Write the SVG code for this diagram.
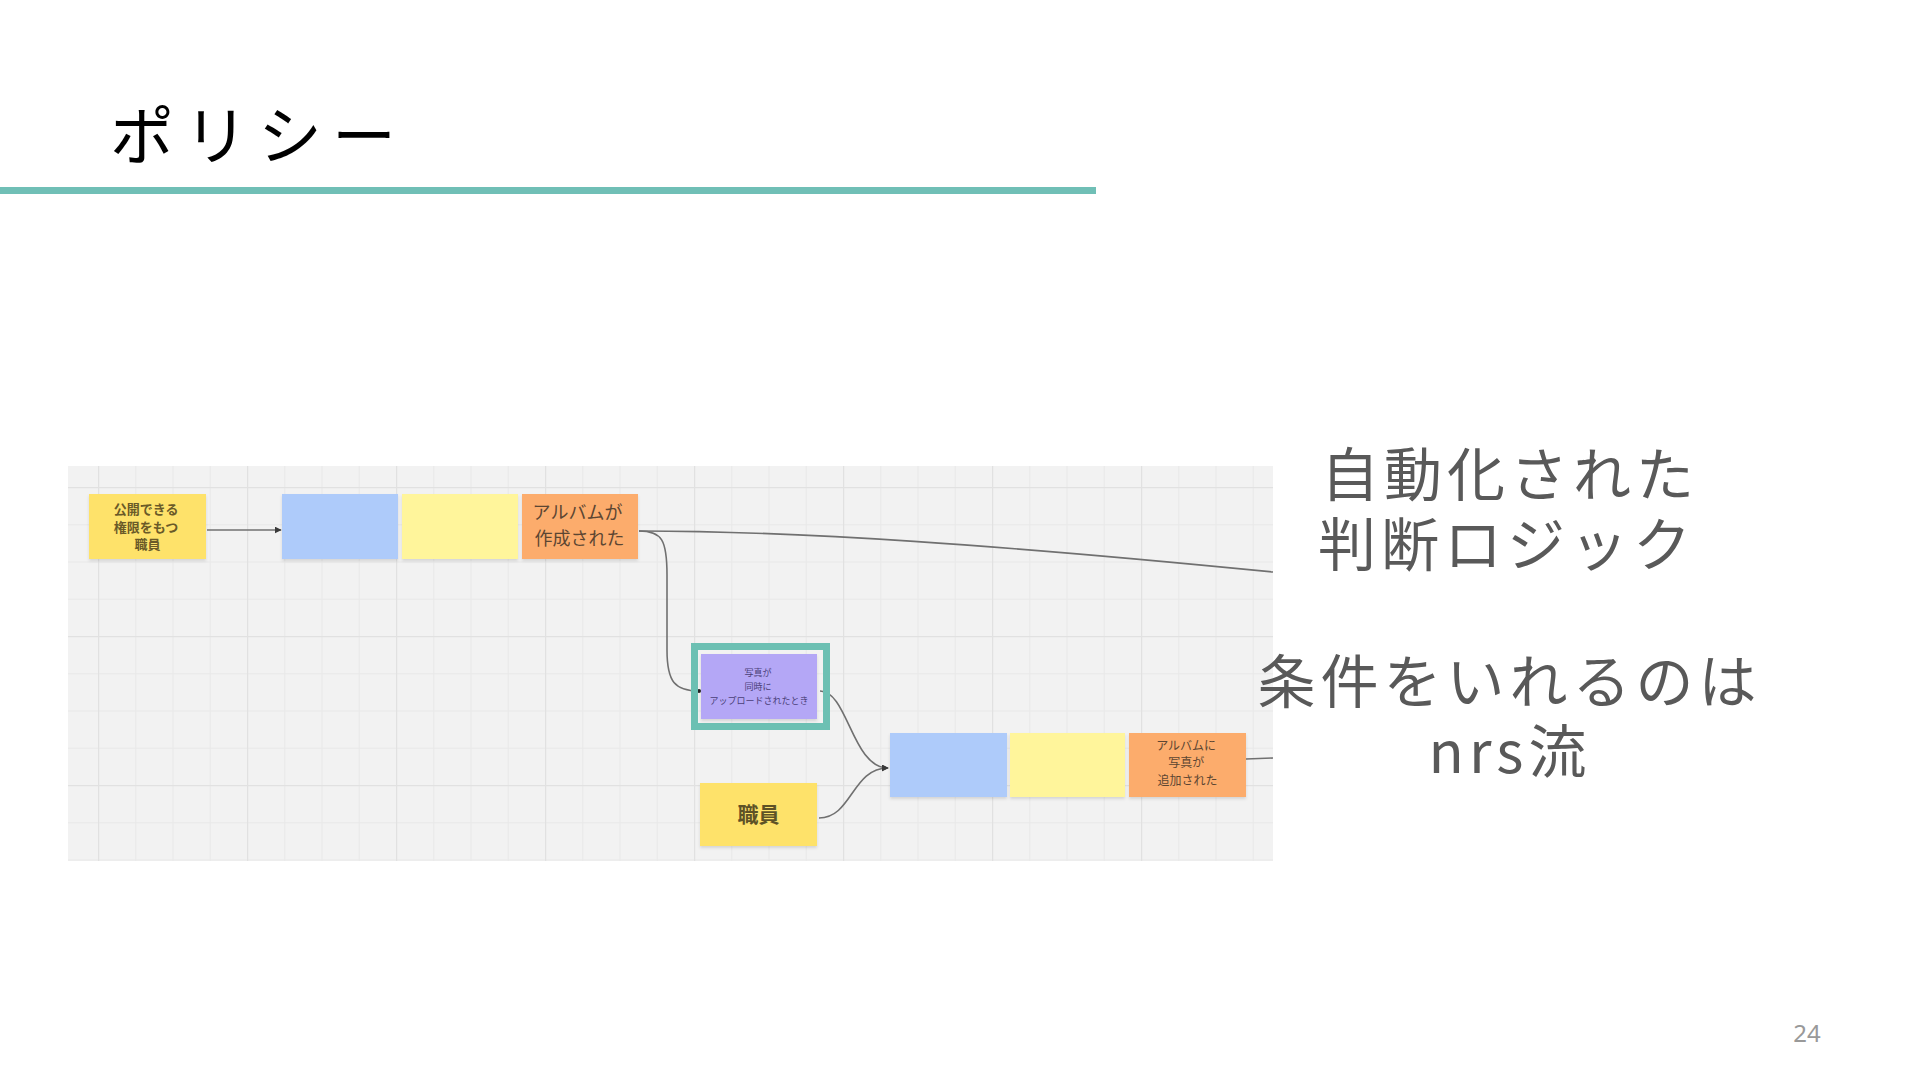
<svg xmlns="http://www.w3.org/2000/svg" width="1920" height="1080" viewBox="0 0 1920 1080">
<defs>
<style>
.jp{font-family:"Noto Sans CJK JP","Noto Sans",sans-serif;}
.title{font-size:64px;fill:#000;letter-spacing:10px;}
.big{font-size:58px;fill:#595959;letter-spacing:5px;text-anchor:middle;}
.st{text-anchor:middle;}
.conn{fill:none;stroke:#707070;stroke-width:1.6;}
.note{filter:url(#sh);}
</style>
<pattern id="grid" patternUnits="userSpaceOnUse" x="98" y="487" width="149" height="149">
<rect x="0" y="0" width="149" height="149" fill="#f2f2f2"/>
<g fill="#e9e9e9">
<rect x="37.25" y="0" width="1" height="149"/>
<rect x="74.5" y="0" width="1" height="149"/>
<rect x="111.75" y="0" width="1" height="149"/>
<rect x="0" y="37.25" width="149" height="1"/>
<rect x="0" y="74.5" width="149" height="1"/>
<rect x="0" y="111.75" width="149" height="1"/>
</g>
<g fill="#e1e1e1">
<rect x="0" y="0" width="1.2" height="149"/>
<rect x="0" y="0" width="149" height="1.2"/>
</g>
</pattern>
<filter id="sh" x="-10%" y="-10%" width="120%" height="130%">
<feDropShadow dx="0" dy="2" stdDeviation="1.5" flood-color="#000" flood-opacity="0.12"/>
</filter>
<marker id="arr" viewBox="0 0 10 10" refX="9" refY="5" markerWidth="7" markerHeight="7" markerUnits="userSpaceOnUse" orient="auto">
<path d="M0,0 L10,5 L0,10 Z" fill="#3a3a3a"/>
</marker>
<marker id="dot" viewBox="0 0 10 10" refX="5" refY="5" markerWidth="4" markerHeight="4" markerUnits="userSpaceOnUse">
<circle cx="5" cy="5" r="5" fill="#222"/>
</marker>
</defs>

<rect width="1920" height="1080" fill="#fff"/>

<g id="title">
<text class="jp title" x="110" y="159">ポリシー</text>
<rect x="0" y="187" width="1096" height="7" fill="#70bfb6"/>
</g>

<g id="board">
<rect x="68" y="466" width="1205" height="395" fill="url(#grid)"/>
</g>

<g id="connectors">
<path class="conn" d="M207,530 L281,530" marker-end="url(#arr)"/>
<path class="conn" d="M639,531 C800,531 1000,545 1273,572"/>
<path class="conn" d="M639,531 C662,531 667,540 667,575 L667,650 C667,682 675,691 699,691" marker-end="url(#dot)"/>
<path class="conn" d="M820,691 C848,691 852,768 888,768" marker-end="url(#arr)"/>
<path class="conn" d="M819,818 C852,818 852,768 888,768" marker-end="url(#arr)"/>
<path class="conn" d="M1246,759 L1273,758"/>
</g>

<g id="node-staff-publish">
<rect class="note" x="89" y="494" width="117" height="65" fill="#fee26b"/>
<text class="jp st" font-size="13" font-weight="bold" fill="#6a5a28">
<tspan x="147.5" y="514">公開できる</tspan>
<tspan x="147.5" y="532">権限をもつ</tspan>
<tspan x="147.5" y="549">職員</tspan>
</text>
</g>

<g id="node-blue-1">
<rect class="note" x="282" y="494" width="116" height="65" fill="#aecbfa"/>
</g>

<g id="node-yellow-1">
<rect class="note" x="402" y="494" width="116" height="65" fill="#fff59b"/>
</g>

<g id="node-album-created">
<rect class="note" x="522" y="494" width="116" height="65" fill="#fcac6c"/>
<text class="jp st" font-size="18" fill="#5c4632">
<tspan x="579.5" y="519">アルバムが</tspan>
<tspan x="579.5" y="545">作成された</tspan>
</text>
</g>

<g id="node-photo-upload">
<rect x="694.5" y="646.5" width="132" height="80" fill="none" stroke="#6cc0b3" stroke-width="7"/>
<rect class="note" x="701" y="654" width="116" height="65" fill="#b4a7f6"/>
<text class="jp st" font-size="9" fill="#4a3f78">
<tspan x="759" y="676">写真が</tspan>
<tspan x="759" y="690">同時に</tspan>
<tspan x="759" y="704">アップロードされたとき</tspan>
</text>
</g>

<g id="node-staff">
<rect class="note" x="700" y="783" width="117" height="63" fill="#fee26b"/>
<text class="jp st" x="758.5" y="822" font-size="21" font-weight="bold" fill="#5e5226">職員</text>
</g>

<g id="node-blue-2">
<rect class="note" x="890" y="733" width="117" height="64" fill="#aecbfa"/>
</g>

<g id="node-yellow-2">
<rect class="note" x="1010" y="733" width="115" height="64" fill="#fff59b"/>
</g>

<g id="node-photo-added">
<rect class="note" x="1129" y="733" width="117" height="64" fill="#fcac6c"/>
<text class="jp st" font-size="12" fill="#5c4632">
<tspan x="1187.5" y="750">アルバムに</tspan>
<tspan x="1187.5" y="767">写真が</tspan>
<tspan x="1187.5" y="785">追加された</tspan>
</text>
</g>

<g id="caption">
<text class="jp big" x="1510" y="496">自動化された</text>
<text class="jp big" x="1507" y="566">判断ロジック</text>
<text class="jp big" x="1509.5" y="703">条件をいれるのは</text>
<text class="jp big" x="1510" y="773">nrs流</text>
</g>

<text id="page-number" x="1807" y="1042" font-family="'Noto Sans','Open Sans',sans-serif" font-size="24" fill="#999" text-anchor="middle">24</text>
</svg>
